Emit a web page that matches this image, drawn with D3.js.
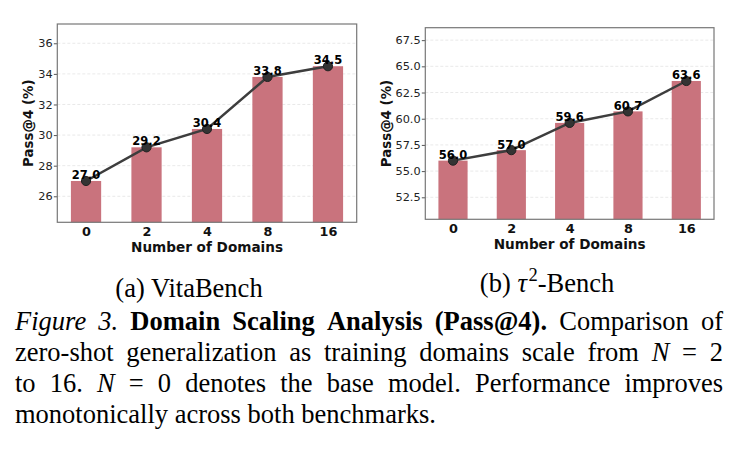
<!DOCTYPE html>
<html>
<head>
<meta charset="utf-8">
<script src="https://cdn.jsdelivr.net/npm/d3@7"></script>
<style>
  body { margin: 0; background: #fff; }
  svg { display: block; }
</style>
</head>
<body>
<svg width="736" height="449"></svg>
<script>
// data
const domains = ['0', '2', '4', '8', '16'];
const vitaScores = [27.0, 29.2, 30.4, 33.8, 34.5];
const tauScores = [56.0, 57.0, 59.6, 60.7, 63.6];
const vitaTicks = [26, 28, 30, 32, 34, 36];
const tauTicks = [52.5, 55, 57.5, 60, 62.5, 65, 67.5];

const barColor = '#c9737d';
const lineColor = '#3d3d3d';

const svg = d3.select('svg');

drawPanel(vitaScores, vitaTicks, d3.format('d'), { x0: 57.3, x1: 356.7, y0: 24, y1: 222.3, labelX: 32.8 });
drawPanel(tauScores, tauTicks, d3.format('.1f'), { x0: 425.3, x1: 714, y0: 27.7, y1: 219.3, labelX: 390.5 });

function drawPanel(values, ticks, fmt, box) {
  const g = svg.append('g');

  // same limits matplotlib gave: min*0.9 .. max*1.08
  const y = d3.scaleLinear()
    .domain([d3.min(values) * 0.9, d3.max(values) * 1.08])
    .range([box.y1, box.y0]);
  const x = d3.scaleLinear()
    .domain([-0.475, domains.length - 1 + 0.475])
    .range([box.x0, box.x1]);
  const barW = x(0.5) - x(0);

  // grid
  g.selectAll('line.grid')
    .data(ticks)
    .join('line')
    .attr('class', 'grid')
    .attr('x1', box.x0).attr('x2', box.x1)
    .attr('y1', d => y(d)).attr('y2', d => y(d))
    .attr('stroke', '#c8c8c8')
    .attr('stroke-opacity', 0.5)
    .attr('stroke-dasharray', '3,2')
    .attr('stroke-width', 0.8);

  // bars
  g.selectAll('rect.bar')
    .data(values)
    .join('rect')
    .attr('class', 'bar')
    .attr('x', (d, i) => x(i) - barW / 2)
    .attr('width', barW)
    .attr('y', d => y(d))
    .attr('height', d => box.y1 - y(d))
    .attr('fill', barColor);

  // line + markers
  const line = d3.line()
    .x((d, i) => x(i))
    .y(d => y(d));
  g.append('path')
    .datum(values)
    .attr('d', line)
    .attr('fill', 'none')
    .attr('stroke', lineColor)
    .attr('stroke-width', 2.5);

  g.selectAll('circle')
    .data(values)
    .join('circle')
    .attr('cx', (d, i) => x(i))
    .attr('cy', d => y(d))
    .attr('r', 4.6)
    .attr('fill', '#333')
    .attr('stroke', '#222')
    .attr('stroke-width', 1);

  // value labels
  g.selectAll('text.val')
    .data(values)
    .join('text')
    .attr('class', 'val')
    .attr('x', (d, i) => x(i))
    .attr('y', d => y(d + 0.15))
    .attr('text-anchor', 'middle')
    .attr('font-family', 'DejaVu Sans')
    .attr('font-weight', 'bold')
    .attr('font-size', 11.5)
    .text(d => d.toFixed(1));

  // y axis
  const yAxis = d3.axisLeft(y)
    .tickValues(ticks)
    .tickFormat(fmt)
    .tickSize(3.5)
    .tickPadding(1.2);
  const ya = g.append('g')
    .attr('transform', `translate(${box.x0},0)`)
    .call(yAxis);
  ya.select('.domain').remove();
  ya.selectAll('line').attr('stroke', '#555');
  ya.selectAll('text')
    .attr('font-family', 'DejaVu Sans')
    .attr('font-size', 11.3)
    .attr('fill', '#222');

  // x axis, no tick marks
  const xAxis = d3.axisBottom(x)
    .tickValues(d3.range(domains.length))
    .tickFormat(i => domains[i])
    .tickSize(0)
    .tickPadding(5);
  const xa = g.append('g')
    .attr('transform', `translate(0,${box.y1})`)
    .call(xAxis);
  xa.select('.domain').remove();
  xa.selectAll('text')
    .attr('font-family', 'DejaVu Sans')
    .attr('font-weight', 'bold')
    .attr('font-size', 12.8)
    .attr('fill', '#111');

  // frame
  g.append('rect')
    .attr('x', box.x0).attr('y', box.y0)
    .attr('width', box.x1 - box.x0)
    .attr('height', box.y1 - box.y0)
    .attr('fill', 'none')
    .attr('stroke', '#777')
    .attr('stroke-width', 1.2);

  g.append('text')
    .attr('x', (box.x0 + box.x1) / 2)
    .attr('y', box.y1 + 29.5)
    .attr('text-anchor', 'middle')
    .attr('font-family', 'DejaVu Sans')
    .attr('font-weight', 'bold')
    .attr('font-size', 13.6)
    .attr('fill', '#111')
    .text('Number of Domains');

  g.append('text')
    .attr('transform', `translate(${box.labelX},${(box.y0 + box.y1) / 2}) rotate(-90)`)
    .attr('text-anchor', 'middle')
    .attr('font-family', 'DejaVu Sans')
    .attr('font-weight', 'bold')
    .attr('font-size', 13.4)
    .attr('fill', '#111')
    .text('Pass@4 (%)');
}

// sub captions
const serif = 'Liberation Serif, Times New Roman, serif';
svg.append('text')
  .attr('x', 189).attr('y', 297)
  .attr('text-anchor', 'middle')
  .attr('font-family', serif)
  .attr('font-size', 26.5)
  .text('(a) VitaBench');

const sub = svg.append('text')
  .attr('x', 547).attr('y', 292)
  .attr('text-anchor', 'middle')
  .attr('font-family', serif)
  .attr('font-size', 26.5);
sub.append('tspan').text('(b) ');
sub.append('tspan').attr('font-style', 'italic').text('τ');
sub.append('tspan').attr('font-size', 18.5).attr('dy', -11).attr('dx', 1.5).text('2');
sub.append('tspan').attr('dy', 11).text('-Bench');

// figure caption, justified by hand
const capLines = [
  [['Figure', 'i'], ['3.', 'i'], ['Domain', 'b'], ['Scaling', 'b'], ['Analysis', 'b'], ['(Pass@4).', 'b'], ['Comparison', 'r'], ['of', 'r']],
  [['zero-shot', 'r'], ['generalization', 'r'], ['as', 'r'], ['training', 'r'], ['domains', 'r'], ['scale', 'r'], ['from', 'r'], ['N', 'i'], ['=', 'r'], ['2', 'r']],
  [['to', 'r'], ['16.', 'r'], ['N', 'i'], ['=', 'r'], ['0', 'r'], ['denotes', 'r'], ['the', 'r'], ['base', 'r'], ['model.', 'r'], ['Performance', 'r'], ['improves', 'r']],
  [['monotonically', 'r'], ['across', 'r'], ['both', 'r'], ['benchmarks.', 'r']]
];
const capBase = [330, 361, 392, 423];
const capLeft = 15, capRight = 723;

capLines.forEach((words, li) => {
  const nodes = words.map(([t, s]) => {
    return svg.append('text')
      .attr('y', capBase[li])
      .attr('font-family', serif)
      .attr('font-size', 26.5)
      .attr('font-style', s === 'i' ? 'italic' : 'normal')
      .attr('font-weight', s === 'b' ? 'bold' : 'normal')
      .text(t);
  });
  const widths = nodes.map(n => n.node().getComputedTextLength());
  const total = d3.sum(widths);
  const last = li === capLines.length - 1;
  const gap = last ? 6.6 : (capRight - capLeft - total) / (words.length - 1);
  let cx = capLeft;
  nodes.forEach((n, i) => {
    n.attr('x', cx);
    cx += widths[i] + gap;
  });
});
</script>
</body>
</html>
